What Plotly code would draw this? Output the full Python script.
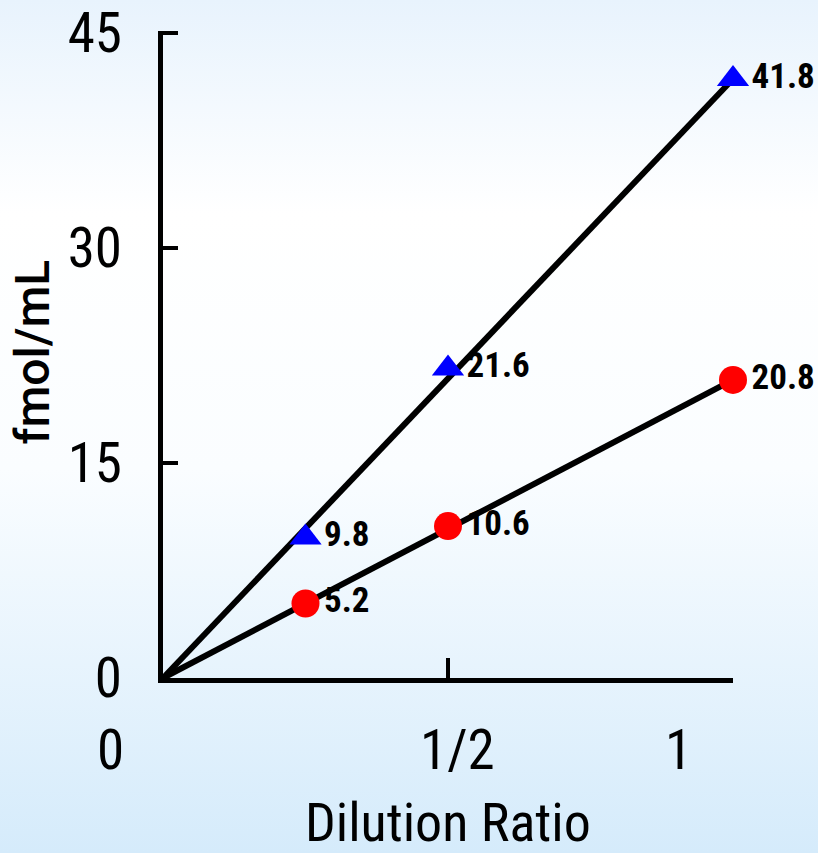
import base64
import plotly.graph_objects as go

# ---- data ----
dilution = [0.25, 0.5, 1.0]
series_a_name = "Sample A"
series_a = [9.8, 21.6, 41.8]      # blue triangles
series_b_name = "Sample B"
series_b = [5.2, 10.6, 20.8]      # red circles
x_tick_vals = [0, 0.5, 1]
x_tick_text = ["0", "1/2", "1"]
y_tick_step = 15
y_max = 45

W, H = 818, 853
ML, MR, MT, MB = 163, 85, 31, 175
pw = W - ML - MR
ph = H - MT - MB

NARROW = "Liberation Sans Narrow, Arial Narrow, Roboto Condensed, Liberation Sans, sans-serif"
TITLE_FONT = "Roboto, Noto Sans, sans-serif"

fig = go.Figure()

# lines from origin to last point
fig.add_trace(go.Scatter(x=[0, dilution[-1]], y=[0, series_a[-1]], mode="lines",
                         line=dict(color="black", width=6), showlegend=False, hoverinfo="skip"))
fig.add_trace(go.Scatter(x=[0, dilution[-1]], y=[0, series_b[-1]], mode="lines",
                         line=dict(color="black", width=6), showlegend=False, hoverinfo="skip"))

fig.add_trace(go.Scatter(x=dilution, y=series_a, mode="markers+text", name=series_a_name,
                         marker=dict(symbol="triangle-up", size=28, color="#0000ff"),
                         text=[f"{v:.1f}" for v in series_a], textposition="middle right",
                         textfont=dict(family=NARROW, size=35, color="black", weight="bold"),
                         cliponaxis=False, showlegend=False))
fig.add_trace(go.Scatter(x=dilution, y=series_b, mode="markers+text", name=series_b_name,
                         marker=dict(symbol="circle", size=28, color="#ff0000"),
                         text=[f"{v:.1f}" for v in series_b], textposition="middle right",
                         textfont=dict(family=NARROW, size=35, color="black", weight="bold"),
                         cliponaxis=False, showlegend=False))

# gradient background as SVG image
svg = f'''<svg xmlns="http://www.w3.org/2000/svg" width="{W}" height="{H}" preserveAspectRatio="none">
<defs><linearGradient id="g" x1="0" y1="0" x2="0" y2="1">
<stop offset="0" stop-color="#e8f3fd"/>
<stop offset="0.25" stop-color="#ffffff"/>
<stop offset="0.55" stop-color="#fafdff"/>
<stop offset="1" stop-color="#d5ebfb"/>
</linearGradient></defs>
<rect width="{W}" height="{H}" fill="url(#g)"/></svg>'''
src = "data:image/svg+xml;base64," + base64.b64encode(svg.encode()).decode()
fig.add_layout_image(dict(source=src, xref="paper", yref="paper",
                          x=-ML / pw, y=1 + MT / ph, sizex=W / pw, sizey=H / ph,
                          xanchor="left", yanchor="top", sizing="stretch", layer="below"))

annotations = []
for v, t in zip(x_tick_vals, x_tick_text):
    shift = {0: -53, 0.5: 9, 1: -55}[v]
    annotations.append(dict(x=v, xref="x", y=0, yref="paper", yshift=-72, xshift=shift,
                            text=t, showarrow=False, yanchor="middle", xanchor="center",
                            font=dict(family=NARROW, size=55, color="black")))
annotations.append(dict(x=0.5, xref="paper", y=0, yref="paper", yshift=-144,
                        text="Dilution Ratio", showarrow=False, yanchor="middle",
                        font=dict(family=NARROW, size=54, color="black")))
annotations.append(dict(x=0, xref="paper", xshift=-131, y=0.5, yref="paper", yshift=2,
                        text="fmol/mL", textangle=-90, showarrow=False,
                        xanchor="center", yanchor="middle",
                        font=dict(family=TITLE_FONT, size=48, color="black", weight=500)))

fig.update_layout(
    width=W, height=H,
    margin=dict(l=ML, r=MR, t=MT, b=MB, pad=0, autoexpand=False),
    paper_bgcolor="#f4f9fe", plot_bgcolor="rgba(0,0,0,0)",
    annotations=annotations,
    xaxis=dict(range=[0, 1], showgrid=False, zeroline=False, showline=True, automargin=False,
               linecolor="black", linewidth=5, ticks="inside", ticklen=20, tickwidth=4,
               tickcolor="black", tickvals=[0.5, 1], showticklabels=False, fixedrange=True),
    yaxis=dict(range=[0, y_max + 0.15], showgrid=False, zeroline=False, showline=True,
               automargin=False,
               linecolor="black", linewidth=5, ticks="inside", ticklen=15, tickwidth=4,
               tickcolor="black", tickmode="linear", tick0=0, dtick=y_tick_step,
               ticklabelstandoff=25, ticklabeloverflow="allow",
               tickfont=dict(family=NARROW, size=55, color="black"), fixedrange=True),
)

fig.write_html("out.html", config={"displayModeBar": False},
               post_script="document.body.style.margin='0';document.body.style.padding='0';")
